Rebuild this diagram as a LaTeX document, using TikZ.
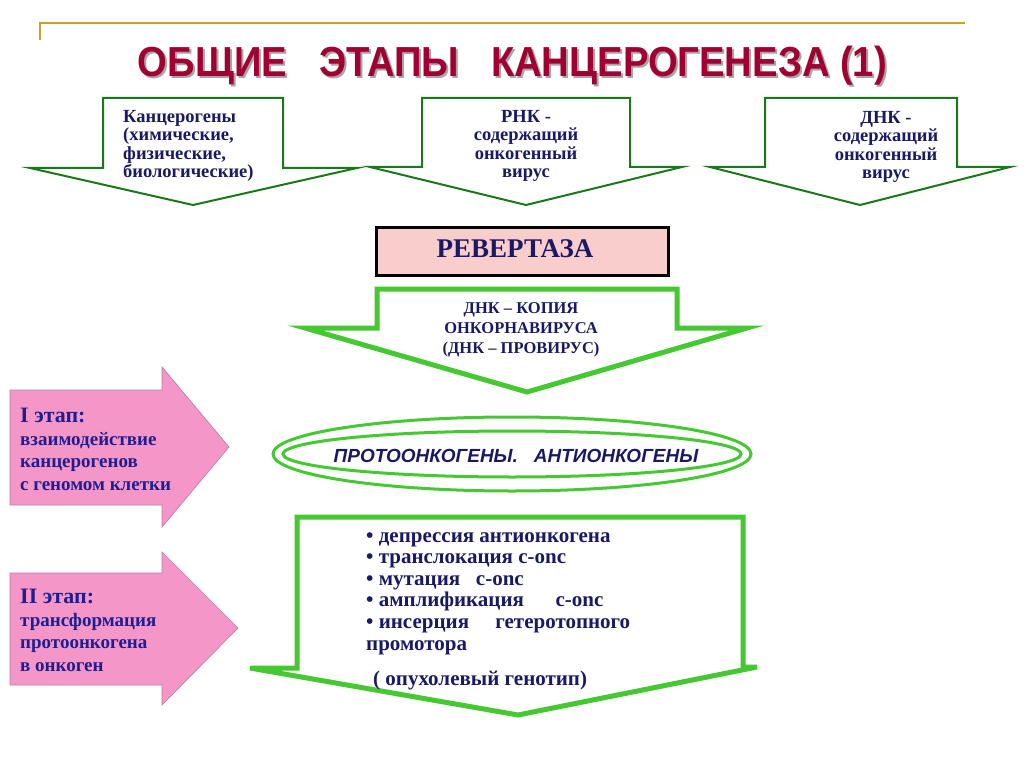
\documentclass[tikz,border=0pt]{standalone}
\usepackage{fontspec}
\setmainfont{Liberation Serif}
\setsansfont{Liberation Sans}
\usepackage{graphicx}
\definecolor{navy}{RGB}{25,25,100}
\definecolor{inkblue}{RGB}{30,30,145}
\definecolor{titlered}{RGB}{160,0,50}
\definecolor{gold}{RGB}{205,160,45}
\definecolor{darkgr}{RGB}{25,120,25}
\definecolor{brightgr}{RGB}{70,200,50}
\definecolor{rosebox}{RGB}{250,205,205}
\definecolor{rosepink}{RGB}{245,150,200}
\definecolor{mauve}{RGB}{185,130,165}
\begin{document}
\begin{tikzpicture}[x=1pt,y=-1pt,
		every node/.style={inner sep=0pt,text=navy},
		greenarrow/.style={draw=darkgr,line width=2pt,fill=white,line join=miter},
		fatarrow/.style={draw=brightgr,line width=5pt,fill=white,line join=miter},
		pinkarrow/.style={draw=mauve,line width=0.7pt,fill=rosepink},
		txt/.style={font=\bfseries\fontsize{18.5}{18.5}\selectfont},
		stagetxt/.style={text=inkblue,align=left,anchor=base west,font=\bfseries\fontsize{19}{22.5}\selectfont}]
		\useasboundingbox[fill=white](0,0) rectangle (1024,767);
		% title
		\draw[gold,line width=2pt](40,40) -- (40,23) -- (965,23);
		\node(Shadow) at (514.5,79)[anchor=base,text=black!35]{\resizebox{749pt}{\height}{\sffamily\bfseries\fontsize{42}{42}\selectfont ОБЩИЕ\ \ \ ЭТАПЫ\ \ \ КАНЦЕРОГЕНЕЗА (1)}};
		\node(Title) at (512.5,77)[anchor=base,text=titlered]{\resizebox{749pt}{\height}{\sffamily\bfseries\fontsize{42}{42}\selectfont ОБЩИЕ\ \ \ ЭТАПЫ\ \ \ КАНЦЕРОГЕНЕЗА (1)}};
		% three sources
		\draw[greenarrow](103,98) -- (283,98) -- (283,168) -- (357,168) -- (193,205) -- (30,168) -- (103,168) -- cycle;
		\draw[greenarrow](422,98) -- (630,98) -- (630,167) -- (682,167) -- (526,205) -- (370,167) -- (422,167) -- cycle;
		\draw[greenarrow](765,98) -- (957,98) -- (957,167) -- (1010,167) -- (860,205) -- (710,167) -- (765,167) -- cycle;
		\node(Carc) at (123,178)[txt,align=left,anchor=base west]{Канцерогены\\(химические,\\физические,\\биологические)};
		\node(Rna) at (526,178)[txt,align=center,anchor=base]{РНК -\\содержащий\\онкогенный\\вирус};
		\node(Dna) at (886,179)[txt,align=center,anchor=base]{ДНК -\\содержащий\\онкогенный\\вирус};
		% revertase
		\node(Rev)[draw=black,line width=3pt,fill=rosebox,minimum width=292pt,minimum height=47pt] at (522,251.5){};
		\node(RevTxt) at (515,258)[anchor=base,font=\bfseries\fontsize{27}{27}\selectfont]{РЕВЕРТАЗА};
		\draw[fatarrow](377,289) -- (677,289) -- (677,328) -- (747,328) -- (527,392) -- (305,328) -- (377,328) -- cycle;
		\node(Copy) at (521,353)[anchor=base,align=center,font=\bfseries\fontsize{16.5}{20}\selectfont]{ДНК – КОПИЯ\\ОНКОРНАВИРУСА\\(ДНК – ПРОВИРУС)};
		% stages
		\draw[pinkarrow](10,390) -- (162,390) -- (162,367) -- (229,447) -- (162,527) -- (162,505) -- (10,505) -- cycle;
		\draw[pinkarrow](10,573) -- (162,573) -- (162,552) -- (238,628) -- (162,705) -- (162,685) -- (10,685) -- cycle;
		\node(StOne) at (20,490)[stagetxt]{{\fontsize{22}{22}\selectfont I этап:}\\взаимодействие\\канцерогенов\\с геномом клетки};
		\node(StTwo) at (20,671)[stagetxt]{{\fontsize{22}{22}\selectfont II этап:}\\трансформация\\протоонкогена\\в онкоген};
		% proto-oncogenes
		\draw[brightgr,line width=3pt](512,454) ellipse [x radius=239,y radius=37];
		\draw[brightgr,line width=3pt](512,454) ellipse [x radius=229,y radius=23];
		\node(Proto) at (516,462)[anchor=base,font=\sffamily\bfseries\itshape\fontsize{19}{19}\selectfont]{ПРОТООНКОГЕНЫ.\ \ \ АНТИОНКОГЕНЫ};
		% transformation
		\draw[fatarrow](297,517) -- (743,517) -- (743,667) -- (757,667) -- (518,715) -- (250,668) -- (297,668) -- cycle;
		\node(List) at (366,650)[anchor=base west,align=left,font=\bfseries\fontsize{21}{21.6}\selectfont]{• депрессия антионкогена\\• транслокация с-onc\\• мутация\ \ \ с-onc\\• амплификация\ \ \ \ \ \ с-onc\\• инсерция\ \ \ \ \ гетеротопного\\промотора};
		\node(Geno) at (373,685)[anchor=base west,font=\bfseries\fontsize{21}{21}\selectfont]{( опухолевый генотип)};
	\end{tikzpicture}
\end{document}
